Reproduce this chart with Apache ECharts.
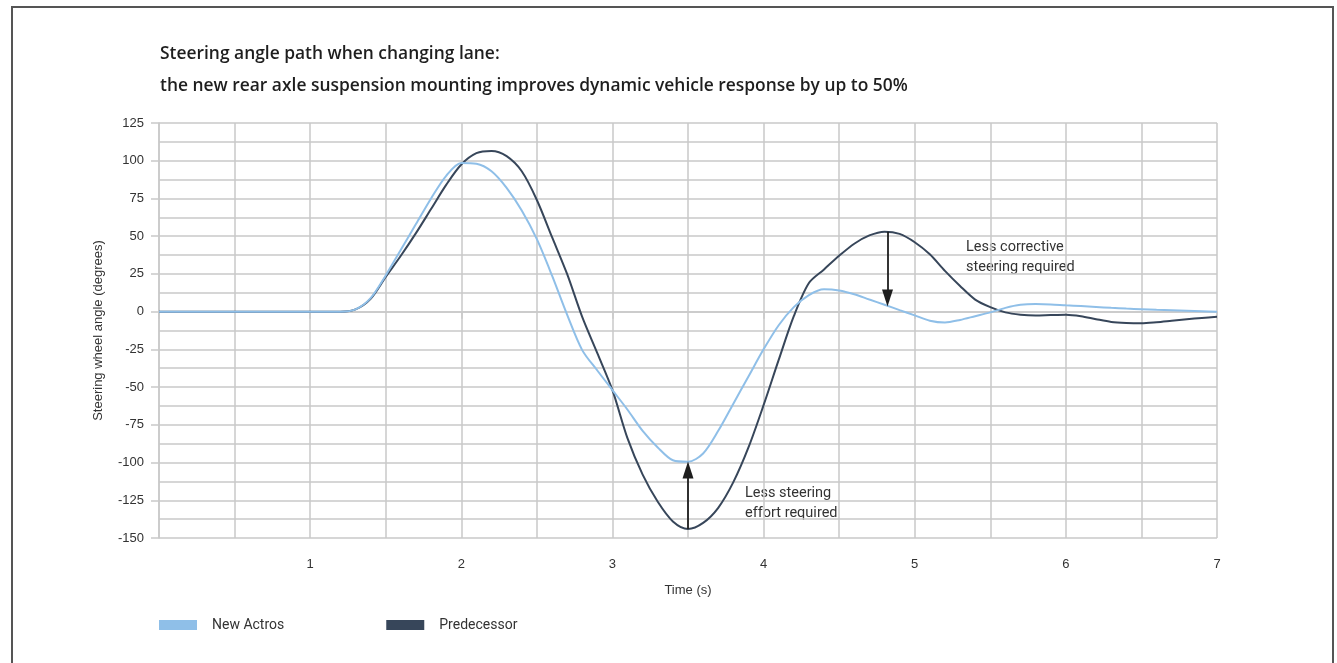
<!DOCTYPE html>
<html>
<head>
<meta charset="utf-8">
<script src="https://cdn.jsdelivr.net/npm/echarts@6/dist/echarts.min.js"></script>
<style>
html, body { margin: 0; padding: 0; background: #fff; }
#main { width: 1337px; height: 663px; }
</style>
</head>
<body>
<div id="main"></div>
<script>
// time in seconds
var timeSec = [0, 0.5, 1.0, 1.1, 1.2, 1.3, 1.4, 1.5, 1.6, 1.7, 1.8, 1.9, 2.0,
    2.1, 2.2, 2.3, 2.4, 2.5, 2.6, 2.7, 2.8, 2.9, 3.0, 3.1, 3.2, 3.3, 3.4, 3.5,
    3.6, 3.7, 3.8, 3.9, 4.0, 4.1, 4.2, 4.3, 4.4, 4.5, 4.6, 4.7, 4.8, 4.9, 5.0,
    5.1, 5.2, 5.3, 5.4, 5.5, 5.6, 5.7, 5.8, 5.9, 6.0, 6.1, 6.2, 6.3, 6.4, 6.5,
    6.6, 6.7, 6.8, 6.9, 7.0];
// steering wheel angle (degrees)
var newActros = [0, 0, 0, 0, 0, 1.5, 9, 24, 41, 58, 75, 90, 98.5,
    98, 93, 82, 67, 48, 24, -2, -25.5, -39, -52, -65, -79, -90, -98.5, -99.5,
    -94, -79, -61, -43, -25, -9, 3, 11, 14.8, 14, 11.5, 8, 4.6, 1, -2.5,
    -6, -7.2, -5.5, -3, -0.5, 2.5, 4.5, 5, 4.8, 4.2, 3.7, 3.1, 2.5, 2, 1.6,
    1.2, 0.9, 0.6, 0.3, 0];
var predecessor = [0, 0, 0, 0, 0, 1.5, 8.5, 23, 37, 52, 68, 84, 97.5,
    105, 106.5, 103, 93, 74, 49.5, 25, -3.5, -27.5, -52, -84, -108, -126, -139, -144,
    -140, -130, -113, -90, -62, -32, -3, 19, 28, 37, 45, 50.5, 53, 51.5, 46,
    38, 27, 17, 8, 3, -0.5, -2, -2.5, -2.2, -2, -3, -5, -6.8, -7.5, -7.7,
    -7, -6, -5, -4.2, -3.4];
// arrows: [time, from, to]
var effortArrow = [3.5, -144, -105];
var correctiveArrow = [4.82, 53, 9];

var seriesNames = ['New Actros', 'Predecessor'];
var lightBlue = '#8fbfe8';
var darkBlue = '#37465a';
var gridColor = '#c9c9c9';

function pairs(ys) {
    var out = [];
    for (var i = 0; i < timeSec.length; i++) {
        out.push([timeSec[i], ys[i]]);
    }
    return out;
}

var myChart = echarts.init(document.getElementById('main'));

var option = {
    backgroundColor: '#fff',
    animation: false,
    title: {
        text: 'Steering angle path when changing lane:\nthe new rear axle suspension mounting improves dynamic vehicle response by up to 50%',
        left: 160,
        top: 38,
        padding: 0,
        textStyle: {
            fontFamily: 'Open Sans',
            fontSize: 17.4,
            fontWeight: 600,
            color: '#1e1e1e',
            lineHeight: 32
        }
    },
    legend: {
        data: seriesNames,
        left: 159,
        top: 618,
        padding: 0,
        icon: 'rect',
        itemWidth: 38,
        itemHeight: 10,
        itemGap: 102,
        selectedMode: false,
        textStyle: {
            fontFamily: 'Roboto',
            fontSize: 14,
            color: '#333',
            padding: [0, 0, 0, 10]
        }
    },
    grid: {
        left: 159,
        top: 123,
        right: 120,
        bottom: 125
    },
    xAxis: {
        type: 'value',
        min: 0,
        max: 7,
        interval: 1,
        name: 'Time (s)',
        nameLocation: 'middle',
        nameGap: 46,
        nameTextStyle: { fontFamily: 'Liberation Sans', fontSize: 13, color: '#333' },
        axisLine: { show: true, lineStyle: { color: gridColor, width: 1.5 } },
        axisTick: { show: true, length: 7, lineStyle: { color: gridColor, width: 1.5 } },
        axisLabel: {
            margin: 20,
            fontFamily: 'Liberation Sans',
            fontSize: 13,
            color: '#333',
            formatter: function(v) { return v === 0 ? '' : v; }
        },
        splitLine: { show: true, lineStyle: { color: gridColor, width: 1.5 } },
        minorTick: { show: false, splitNumber: 2 },
        minorSplitLine: { show: true, lineStyle: { color: gridColor, width: 1.5 } }
    },
    yAxis: {
        type: 'value',
        min: -150,
        max: 125,
        interval: 25,
        name: 'Steering wheel angle (degrees)',
        nameLocation: 'middle',
        nameGap: 54,
        nameTextStyle: { fontFamily: 'Liberation Sans', fontSize: 13, color: '#333' },
        axisLine: { show: true, lineStyle: { color: gridColor, width: 1.5 } },
        axisTick: { show: true, length: 8, lineStyle: { color: gridColor, width: 1.5 } },
        axisLabel: {
            margin: 15,
            fontFamily: 'Liberation Sans',
            fontSize: 13,
            color: '#333'
        },
        splitLine: { show: true, lineStyle: { color: gridColor, width: 1.5 } },
        minorTick: { show: false, splitNumber: 2 },
        minorSplitLine: { show: true, lineStyle: { color: gridColor, width: 1.5 } }
    },
    series: [{
        name: seriesNames[0],
        type: 'line',
        data: pairs(newActros),
        smooth: 0.3,
        showSymbol: false,
        color: lightBlue,
        lineStyle: { color: lightBlue, width: 2 },
        z: 3
    }, {
        name: seriesNames[1],
        type: 'line',
        data: pairs(predecessor),
        smooth: 0.3,
        showSymbol: false,
        color: darkBlue,
        lineStyle: { color: darkBlue, width: 2 },
        z: 2,
        markLine: {
            silent: true,
            symbol: ['none', 'triangle'],
            symbolSize: [11, 17],
            label: { show: false },
            lineStyle: { color: '#1e1e1e', width: 1.8, type: 'solid' },
            emphasis: { disabled: true },
            data: [
                [{ coord: [effortArrow[0], effortArrow[1]] }, { coord: [effortArrow[0], effortArrow[2]] }],
                [{ coord: [correctiveArrow[0], correctiveArrow[1]] }, { coord: [correctiveArrow[0], correctiveArrow[2]] }]
            ]
        }
    }],
    graphic: [{
        type: 'rect',
        shape: { x: 12, y: 7, width: 1321, height: 680 },
        style: { fill: 'none', stroke: '#555', lineWidth: 2 },
        silent: true
    }, {
        type: 'text',
        left: 745,
        top: 483,
        style: {
            text: 'Less steering\neffort required',
            fontFamily: 'Roboto',
            fontSize: 14.5,
            lineHeight: 20,
            fill: '#333'
        }
    }, {
        type: 'text',
        left: 966,
        top: 237,
        style: {
            text: 'Less corrective\nsteering required',
            fontFamily: 'Roboto',
            fontSize: 14.5,
            lineHeight: 20,
            fill: '#333'
        }
    }]
};

myChart.setOption(option);
</script>
</body>
</html>
